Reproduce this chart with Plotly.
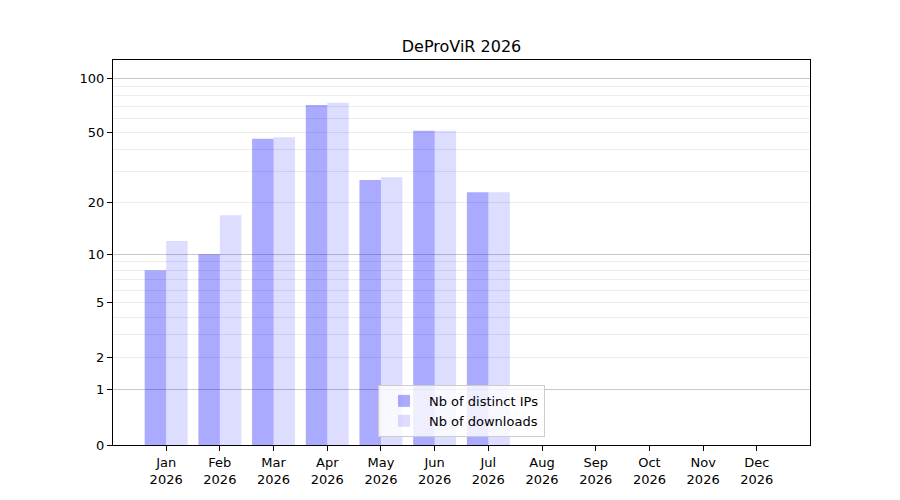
import plotly.graph_objects as go

months = ["Jan", "Feb", "Mar", "Apr", "May", "Jun",
          "Jul", "Aug", "Sep", "Oct", "Nov", "Dec"]
year = "2026"
distinct_ips = [8, 10, 46, 71, 27, 51, 23]
downloads = [12, 17, 47, 73, 28, 51, 23]

y_ticks = [0, 1, 2, 5, 10, 20, 50, 100]
y_major = [1, 10, 100]
y_minor = [3, 4, 6, 7, 8, 9, 30, 40, 60, 70, 80, 90]

labels = [m + "<br>" + year for m in months]

# y axis is log10(1 + n), so shift everything by one and use a log axis
fig = go.Figure()
fig.add_trace(go.Bar(
    x=labels[:len(distinct_ips)],
    y=[1 + v for v in distinct_ips],
    name="Nb of distinct IPs",
    marker=dict(color="rgba(0,0,255,0.333)", line_width=0),
    width=0.4, offset=-0.4,
))
# second series sits on the overlaid axis (same range) which carries the darker 1/10/100 grid
fig.add_trace(go.Bar(
    x=labels[:len(downloads)],
    y=[1 + v for v in downloads],
    name="Nb of downloads",
    marker=dict(color="rgba(0,0,255,0.133)", line_width=0),
    width=0.4, offset=0, yaxis="y2",
))

yrange = [0, 2.1027]

# page body has an 8px margin, so the figure is a bit smaller than the window
fig.update_layout(
    width=892, height=492,
    margin=dict(l=104.5, r=90, t=52, b=55),
    paper_bgcolor="white", plot_bgcolor="white",
    font=dict(family="DejaVu Sans", size=13, color="black"),
    title=dict(text="DeProViR 2026", x=0.5, xref="paper", xanchor="center",
               y=1 - 38 / 492, yanchor="middle", font=dict(size=16)),
    barmode="overlay",
    showlegend=True,
    legend=dict(x=0.5, xanchor="center", y=0.021, yanchor="bottom",
                bgcolor="rgba(255,255,255,0.8)", bordercolor="#cccccc",
                borderwidth=1, font=dict(size=13), traceorder="normal",
                itemwidth=40),
    xaxis=dict(
        type="category", categoryorder="array", categoryarray=labels,
        tickvals=labels, range=[-0.99, 11.99],
        showline=True, linecolor="black", linewidth=1, mirror=True,
        ticks="outside", ticklen=5, tickcolor="black",
        showgrid=False, zeroline=False,
    ),
    yaxis=dict(
        type="log", range=yrange,
        tickvals=[1 + t for t in y_ticks], ticktext=[str(t) for t in y_ticks],
        showline=True, linecolor="black", linewidth=1, mirror=True,
        ticks="outside", ticklen=5, tickcolor="black",
        showgrid=True, gridcolor="rgba(0,0,0,0.075)", gridwidth=1,
        minor=dict(tickvals=[1 + t for t in y_minor], showgrid=True,
                   gridcolor="rgba(0,0,0,0.075)", gridwidth=1, ticks=""),
        zeroline=False,
    ),
    yaxis2=dict(
        type="log", range=yrange, overlaying="y", side="left",
        tickvals=[1 + t for t in y_major], showticklabels=False, ticks="",
        showgrid=True, gridcolor="rgba(0,0,0,0.15)", gridwidth=1,
        showline=False, zeroline=False,
    ),
)

fig.write_html("out.html")
